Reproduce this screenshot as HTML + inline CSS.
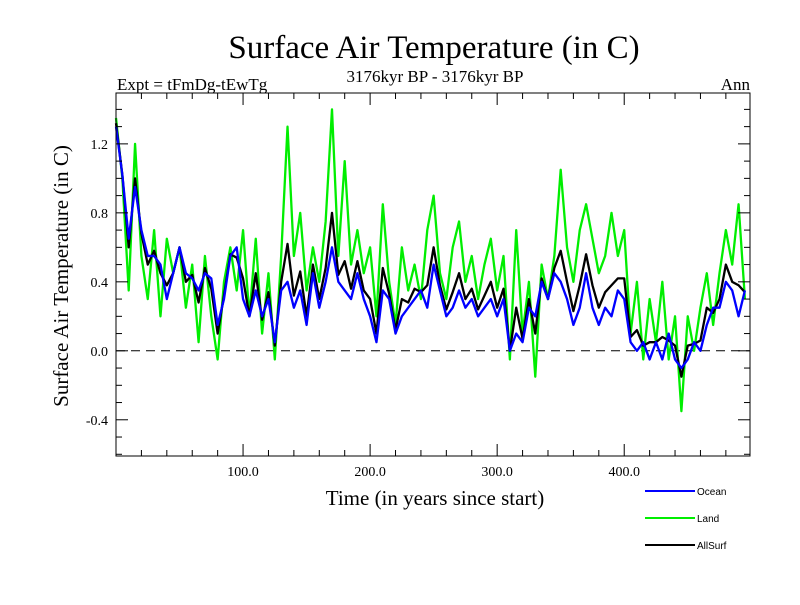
<!DOCTYPE html>
<html><head><meta charset="utf-8"><style>
html,body{margin:0;padding:0;background:#fff;}
svg text{font-family:"Liberation Serif",serif;}
</style></head><body>
<svg id="chart" width="800" height="600" viewBox="0 0 800 600">
<text x="434" y="58" font-size="33" text-anchor="middle">Surface Air Temperature (in C)</text>
<text x="117" y="90" font-size="17">Expt = tFmDg-tEwTg</text>
<text x="435" y="82" font-size="17" text-anchor="middle">3176kyr BP - 3176kyr BP</text>
<text x="750" y="90" font-size="17" text-anchor="end">Ann</text>
<text x="435" y="505" font-size="21" text-anchor="middle">Time (in years since start)</text>
<text transform="translate(68,276) rotate(-90)" font-size="21" text-anchor="middle">Surface Air Temperature (in C)</text>
<g id="plot"></g>
<g id="legend">
<line x1="645" y1="491" x2="695" y2="491" stroke="#0000ff" stroke-width="2"/>
<text x="697" y="495" font-size="10" style="font-family:'Liberation Sans',sans-serif">Ocean</text>
<line x1="645" y1="518" x2="695" y2="518" stroke="#00ee00" stroke-width="2"/>
<text x="697" y="522" font-size="10" style="font-family:'Liberation Sans',sans-serif">Land</text>
<line x1="645" y1="545" x2="695" y2="545" stroke="#000" stroke-width="2"/>
<text x="697" y="549" font-size="10" style="font-family:'Liberation Sans',sans-serif">AllSurf</text>
</g>
</svg>
<script>
const years=[];for(let i=0;i<100;i++)years.push(i*5);
const ocean=[1.30,1.02,0.65,0.95,0.70,0.55,0.55,0.50,0.30,0.45,0.60,0.45,0.42,0.35,0.45,0.42,0.15,0.30,0.55,0.60,0.30,0.20,0.35,0.20,0.30,0.05,0.35,0.40,0.25,0.35,0.15,0.45,0.25,0.40,0.60,0.40,0.35,0.30,0.45,0.30,0.20,0.05,0.35,0.30,0.10,0.20,0.25,0.30,0.35,0.25,0.50,0.35,0.20,0.25,0.35,0.25,0.30,0.20,0.25,0.30,0.20,0.30,0.00,0.10,0.05,0.25,0.20,0.40,0.30,0.45,0.40,0.30,0.15,0.25,0.45,0.25,0.15,0.25,0.20,0.35,0.30,0.05,0.00,0.05,-0.05,0.05,-0.05,0.10,-0.05,-0.10,-0.05,0.05,0.00,0.15,0.25,0.25,0.40,0.35,0.20,0.35];
const land=[1.35,1.00,0.35,1.20,0.55,0.30,0.70,0.20,0.65,0.45,0.60,0.25,0.50,0.05,0.55,0.20,-0.05,0.40,0.60,0.35,0.70,0.20,0.65,0.10,0.45,-0.05,0.55,1.30,0.55,0.80,0.35,0.60,0.40,0.75,1.40,0.55,1.10,0.50,0.70,0.45,0.60,0.20,0.85,0.40,0.15,0.60,0.35,0.50,0.30,0.70,0.90,0.45,0.30,0.60,0.75,0.40,0.55,0.30,0.50,0.65,0.35,0.55,-0.05,0.70,0.10,0.40,-0.15,0.50,0.30,0.55,1.05,0.60,0.40,0.70,0.85,0.65,0.45,0.55,0.80,0.55,0.70,0.10,0.40,-0.05,0.30,0.05,0.40,-0.05,0.20,-0.35,0.20,0.00,0.25,0.45,0.15,0.45,0.70,0.50,0.85,0.30];
const allsurf=[1.32,1.02,0.60,1.00,0.68,0.50,0.58,0.45,0.38,0.45,0.60,0.40,0.44,0.28,0.48,0.36,0.10,0.32,0.56,0.54,0.42,0.20,0.45,0.18,0.34,0.03,0.40,0.62,0.32,0.46,0.20,0.50,0.30,0.48,0.80,0.44,0.52,0.36,0.52,0.35,0.30,0.10,0.48,0.33,0.12,0.30,0.28,0.36,0.34,0.38,0.60,0.38,0.24,0.34,0.45,0.30,0.36,0.24,0.32,0.40,0.25,0.36,0.00,0.25,0.07,0.30,0.10,0.42,0.30,0.48,0.58,0.40,0.23,0.38,0.56,0.38,0.25,0.34,0.38,0.42,0.42,0.08,0.12,0.03,0.05,0.05,0.08,0.06,0.03,-0.15,0.03,0.04,0.06,0.25,0.22,0.30,0.50,0.40,0.38,0.34];
const yTicks=[-0.4,0.0,0.4,0.8,1.2];
const yTickLabels=["-0.4","0.0","0.4","0.8","1.2"];
const xTicks=[100,200,300,400];
const xTickLabels=["100.0","200.0","300.0","400.0"];
const L=116,R=750,T=93,B=456,X0=0,X1=499,Y0=-0.61,Y1=1.495;
const sx=v=>L+(v-X0)/(X1-X0)*(R-L);
const sy=v=>B-(v-Y0)/(Y1-Y0)*(B-T);
const NS="http://www.w3.org/2000/svg";
const g=document.getElementById('plot');
function mk(t,a){const e=document.createElementNS(NS,t);for(const k in a)e.setAttribute(k,a[k]);g.appendChild(e);return e;}
const zl=mk('line',{x1:L,x2:R,y1:sy(0),y2:sy(0),stroke:'#000','stroke-dasharray':'9,6','stroke-width':1});


function series(vals,color,name){
  const p=mk('polyline',{points:vals.map((v,i)=>sx(years[i])+','+sy(v)).join(' '),fill:'none',stroke:color,'stroke-width':2.3,'stroke-linejoin':'round'});
  
  
}
series(land,'#00ee00','land-series');
series(allsurf,'#000000','allsurf-series');
series(ocean,'#0000ff','ocean-series');
const box=mk('rect',{x:L,y:T,width:R-L,height:B-T,fill:'none',stroke:'#000','stroke-width':1});


for(let v=-0.6;v<=1.45;v+=0.1){const y=sy(v);const maj=Math.abs((v*10)%4)<0.01||Math.abs(Math.abs((v*10)%4)-4)<0.01;const len=maj?12:6;
  mk('line',{x1:L,x2:L+len,y1:y,y2:y,stroke:'#000'});mk('line',{x1:R,x2:R-len,y1:y,y2:y,stroke:'#000'});}
for(let v=20;v<500;v+=20){const x=sx(v);const len=v%100===0?12:6;
  mk('line',{x1:x,x2:x,y1:B,y2:B-len,stroke:'#000'});mk('line',{x1:x,x2:x,y1:T,y2:T+len,stroke:'#000'});}
yTicks.forEach((v,i)=>{const t=mk('text',{x:L-8,y:sy(v)+5,'font-size':14,'text-anchor':'end'});t.textContent=yTickLabels[i];
  
  });
xTicks.forEach((v,i)=>{const t=mk('text',{x:sx(v),y:B+20,'font-size':14,'text-anchor':'middle'});t.textContent=xTickLabels[i];
  
  });
</script>
</body></html>
